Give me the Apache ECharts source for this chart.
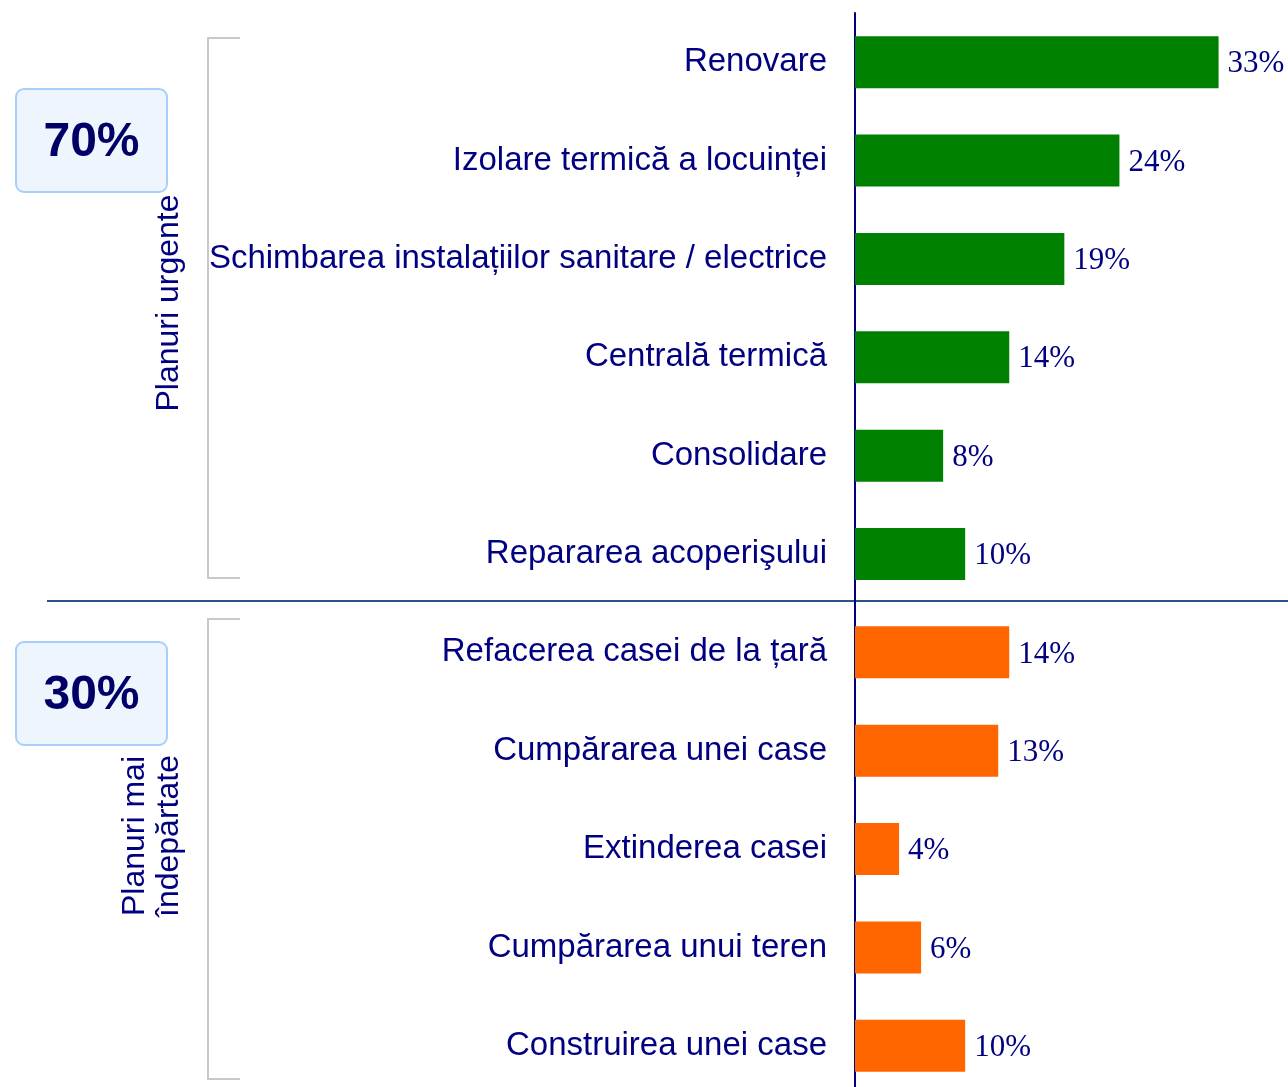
<!DOCTYPE html>
<html>
<head>
<meta charset="utf-8">
<script src="https://cdn.jsdelivr.net/npm/echarts@6/dist/echarts.min.js"></script>
<style>
  html, body { margin: 0; padding: 0; background: #fff; overflow: hidden; }
  #chart { width: 1288px; height: 1100px; }
</style>
</head>
<body>
<div id="chart"></div>
<script>
var categories = [
    'Renovare',
    'Izolare termică a locuinței',
    'Schimbarea instalațiilor sanitare / electrice',
    'Centrală termică',
    'Consolidare',
    'Repararea acoperişului',
    'Refacerea casei de la țară',
    'Cumpărarea unei case',
    'Extinderea casei',
    'Cumpărarea unui teren',
    'Construirea unei case'
];
var values = [33, 24, 19, 14, 8, 10, 14, 13, 4, 6, 10];
var groups = ['urgent', 'urgent', 'urgent', 'urgent', 'urgent', 'urgent', 'far', 'far', 'far', 'far', 'far'];
var groupColors = { urgent: '#008000', far: '#ff6600' };
var groupTotals = ['70%', '30%'];

var navy = '#000080';

var chart = echarts.init(document.getElementById('chart'));

var barData = values.map(function (v, i) {
    return { value: v, itemStyle: { color: groupColors[groups[i]] } };
});

var option = {
    animation: false,
    backgroundColor: '#fff',
    grid: {
        left: 855,
        top: 13,
        right: 0,
        height: 1082,
        containLabel: false
    },
    xAxis: {
        type: 'value',
        min: 0,
        max: 39.3,
        show: false
    },
    yAxis: {
        type: 'category',
        inverse: true,
        data: categories,
        axisLine: { show: true, lineStyle: { color: navy, width: 2 } },
        axisTick: { show: false },
        axisLabel: {
            margin: 28,
            padding: [5, 0, 0, 0],
            color: navy,
            fontFamily: 'Liberation Sans, Arial, sans-serif',
            fontSize: 33
        }
    },
    series: [{
        type: 'bar',
        data: barData,
        barWidth: 52,
        label: {
            show: true,
            position: 'right',
            distance: 9,
            offset: [0, 2],
            formatter: '{c}%',
            color: navy,
            fontFamily: 'Liberation Serif, Times New Roman, serif',
            fontSize: 31
        }
    }],
    graphic: [
        // divider between the two groups
        {
            type: 'line',
            shape: { x1: 47, y1: 601, x2: 1288, y2: 601 },
            style: { stroke: '#2b5485', lineWidth: 2 }
        },
        // brackets
        {
            type: 'polyline',
            shape: { points: [[240, 38], [208, 38], [208, 578], [240, 578]] },
            style: { stroke: '#c8c8c8', lineWidth: 2, fill: null }
        },
        {
            type: 'polyline',
            shape: { points: [[240, 619], [208, 619], [208, 1079], [240, 1079]] },
            style: { stroke: '#c8c8c8', lineWidth: 2, fill: null }
        },
        // total boxes
        {
            type: 'rect',
            shape: { x: 16, y: 89, width: 151, height: 103, r: 8 },
            style: { fill: '#eef5fd', stroke: '#a6d0fb', lineWidth: 2 }
        },
        {
            type: 'text',
            x: 91.5, y: 143,
            style: {
                text: groupTotals[0],
                fill: '#000066',
                font: 'bold 48px "Liberation Sans", Arial, sans-serif',
                align: 'center',
                verticalAlign: 'middle'
            }
        },
        {
            type: 'rect',
            shape: { x: 16, y: 642, width: 151, height: 103, r: 8 },
            style: { fill: '#eef5fd', stroke: '#a6d0fb', lineWidth: 2 }
        },
        {
            type: 'text',
            x: 91.5, y: 696,
            style: {
                text: groupTotals[1],
                fill: '#000066',
                font: 'bold 48px "Liberation Sans", Arial, sans-serif',
                align: 'center',
                verticalAlign: 'middle'
            }
        },
        // rotated group titles
        {
            type: 'text',
            x: 169, y: 303,
            rotation: Math.PI / 2,
            style: {
                text: 'Planuri urgente',
                fill: navy,
                font: '32px "Liberation Sans", Arial, sans-serif',
                align: 'center',
                verticalAlign: 'middle'
            }
        },
        {
            type: 'text',
            x: 152, y: 836,
            rotation: Math.PI / 2,
            style: {
                text: 'Planuri mai\nîndepărtate',
                fill: navy,
                font: '32px "Liberation Sans", Arial, sans-serif',
                lineHeight: 34,
                align: 'center',
                verticalAlign: 'middle'
            }
        }
    ]
};

chart.setOption(option);
</script>
</body>
</html>
